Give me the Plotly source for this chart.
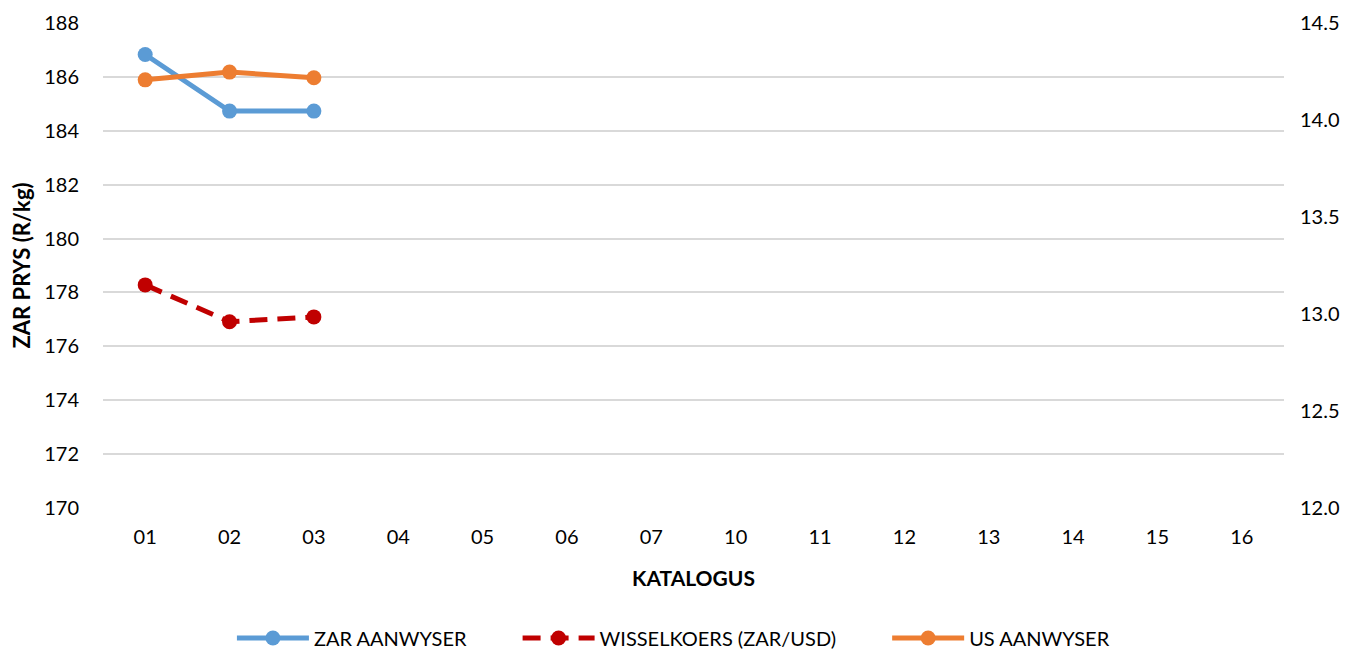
import plotly.graph_objects as go

categories = ["01", "02", "03", "04", "05", "06", "07", "10", "11", "12", "13", "14", "15", "16"]
zar_index = [186.83, 184.73, 184.73]
exchange_rate = [13.15, 12.96, 12.985]
us_index = [14.207, 14.247, 14.218]
series_names = ["ZAR AANWYSER", "WISSELKOERS (ZAR/USD)", "US AANWYSER"]

font_family = "Lato, 'Open Sans', sans-serif"
pad = "\u00a0" * 9

fig = go.Figure()
fig.add_trace(go.Scatter(
    x=categories[:len(zar_index)], y=zar_index, name=series_names[0] + pad, mode="lines+markers",
    line=dict(color="#5B9BD5", width=5), marker=dict(size=15, color="#5B9BD5"),
    yaxis="y"))
fig.add_trace(go.Scatter(
    x=categories[:len(exchange_rate)], y=exchange_rate, name=series_names[1] + pad, mode="lines+markers",
    line=dict(color="#C00000", width=5, dash="18px,10px"), marker=dict(size=15, color="#C00000"),
    yaxis="y2"))
fig.add_trace(go.Scatter(
    x=categories[:len(us_index)], y=us_index, name=series_names[2], mode="lines+markers",
    line=dict(color="#ED7D31", width=5), marker=dict(size=15, color="#ED7D31"),
    yaxis="y2"))

fig.update_layout(
    width=1336, height=643,
    margin=dict(l=95, r=60, t=15, b=143, autoexpand=False),
    paper_bgcolor="white", plot_bgcolor="white",
    font=dict(family=font_family, size=20, color="#000000"),
    xaxis=dict(
        type="category", categoryorder="array", categoryarray=categories,
        range=[-0.5, len(categories) - 0.5], automargin=False,
        showgrid=False, zeroline=False, showline=False,
        ticks="outside", ticklen=11, tickcolor="rgba(0,0,0,0)",
        title=dict(text="<b>KATALOGUS</b>", font=dict(size=21), standoff=24),
        tickfont=dict(size=20),
    ),
    yaxis=dict(
        range=[170, 188], dtick=2, tick0=170, automargin=False,
        showgrid=True, gridcolor="#D9D9D9", gridwidth=1.5,
        zeroline=False, showline=False,
        ticks="outside", ticklen=19, tickcolor="rgba(0,0,0,0)",
        title=dict(text="<b>ZAR PRYS (R/kg)</b>", font=dict(size=22), standoff=12),
        tickfont=dict(size=20),
    ),
    yaxis2=dict(
        range=[12.0, 14.5], dtick=0.5, tick0=12.0, tickformat=".1f",
        overlaying="y", side="right", automargin=False,
        showgrid=False, zeroline=False, showline=False,
        ticks="outside", ticklen=11, tickcolor="rgba(0,0,0,0)",
        tickfont=dict(size=20),
    ),
    legend=dict(
        orientation="h", x=0.483, xanchor="center", y=-0.268, yanchor="middle",
        font=dict(size=20), itemwidth=72, traceorder="normal",
        tracegroupgap=0,
    ),
    showlegend=True,
)

fig.write_html("out.html")
